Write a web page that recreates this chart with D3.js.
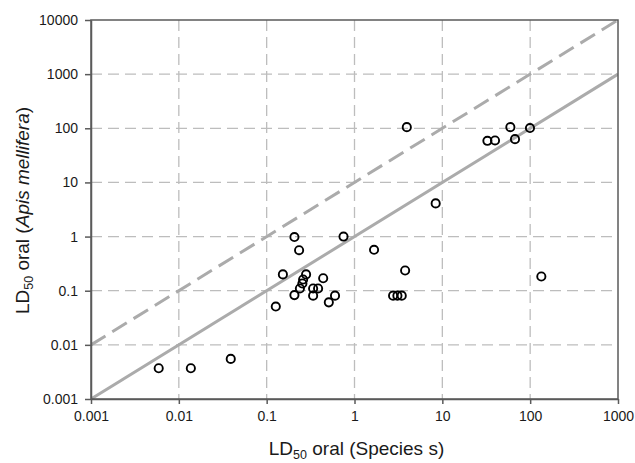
<!DOCTYPE html>
<html>
<head>
<meta charset="utf-8">
<script src="https://cdn.jsdelivr.net/npm/d3@7"></script>
<style>
  html, body { margin: 0; padding: 0; background: #fff; }
  svg { display: block; font-family: "Liberation Sans", Arial, sans-serif; }
</style>
</head>
<body>
<svg id="chart" width="635" height="463"></svg>
<script>
// LD50 oral values: other species (x) vs. honey bee Apis mellifera (y)
const speciesLD50 = [
  0.0059, 0.0137, 0.039, 0.127, 0.153, 0.207, 0.234, 0.207,
  0.281, 0.26, 0.255, 0.239, 0.338, 0.385, 0.338, 0.44,
  0.6, 0.51, 0.75, 1.67, 3.77, 2.75, 3.08, 3.45,
  3.94, 8.4, 32.6, 39.8, 59.5, 67.2, 99.5, 134
];
const apisLD50 = [
  0.0037, 0.0037, 0.0055, 0.051, 0.2, 0.98, 0.56, 0.083,
  0.2, 0.161, 0.136, 0.11, 0.11, 0.11, 0.081, 0.17,
  0.081, 0.061, 1.0, 0.57, 0.236, 0.081, 0.081, 0.081,
  105, 4.1, 58.7, 59.6, 105, 63, 101, 0.183
];

// Reference lines: 1:1 and tenfold
const refX = [0.001, 1000];
const oneToOneY = [0.001, 1000];
const tenfoldY = [0.01, 10000];

const xTicks = [0.001, 0.01, 0.1, 1, 10, 100, 1000];
const xTickLabels = ["0.001", "0.01", "0.1", "1", "10", "100", "1000"];
const yTicks = [0.001, 0.01, 0.1, 1, 10, 100, 1000, 10000];
const yTickLabels = ["0.001", "0.01", "0.1", "1", "10", "100", "1000", "10000"];

const svg = d3.select("#chart");
const W = 635, H = 463;
const margin = { left: 91, right: 17, top: 20, bottom: 64 };
const x0 = margin.left, x1 = W - margin.right;
const y0 = H - margin.bottom, y1 = margin.top;

const x = d3.scaleLog().domain([0.001, 1000]).range([x0, x1]);
const y = d3.scaleLog().domain([0.001, 10000]).range([y0, y1]);

const gridColor = "#bdbdbd";
const axisColor = "#5a5a5a";
const refColor = "#ababab";

// Grid
const grid = svg.append("g");
grid.selectAll("line.vx").data(xTicks.slice(1, -1)).join("line")
  .attr("x1", d => x(d)).attr("x2", d => x(d))
  .attr("y1", y1).attr("y2", y0)
  .attr("stroke", gridColor).attr("stroke-width", 1.3)
  .attr("stroke-dasharray", "11,6");
grid.selectAll("line.hy").data(yTicks.slice(1, -1)).join("line")
  .attr("x1", x0).attr("x2", x1)
  .attr("y1", d => y(d)).attr("y2", d => y(d))
  .attr("stroke", gridColor).attr("stroke-width", 1.3)
  .attr("stroke-dasharray", "11,6");

// Reference lines
svg.append("defs").append("clipPath").attr("id", "plotClip")
  .append("rect").attr("x", x0).attr("y", y1).attr("width", x1 - x0).attr("height", y0 - y1);

const line = d3.line().x(d => x(d[0])).y(d => y(d[1]));
const refs = svg.append("g").attr("clip-path", "url(#plotClip)");
refs.append("path")
  .attr("d", line(d3.zip(refX, oneToOneY)))
  .attr("fill", "none").attr("stroke", refColor).attr("stroke-width", 3);
refs.append("path")
  .attr("d", line(d3.zip(refX, tenfoldY)))
  .attr("fill", "none").attr("stroke", refColor).attr("stroke-width", 3)
  .attr("stroke-dasharray", "17,8");

// Frame
svg.append("rect")
  .attr("x", x0).attr("y", y1).attr("width", x1 - x0).attr("height", y0 - y1)
  .attr("fill", "none").attr("stroke", axisColor).attr("stroke-width", 1.5);

// Axes
const xAxis = d3.axisBottom(x).tickValues(xTicks)
  .tickFormat((d, i) => xTickLabels[i]).tickSize(5).tickSizeOuter(0).tickPadding(7);
const yAxis = d3.axisLeft(y).tickValues(yTicks)
  .tickFormat((d, i) => yTickLabels[i]).tickSize(6).tickSizeOuter(0).tickPadding(7);

const gx = svg.append("g").attr("transform", `translate(0,${y0})`).call(xAxis);
const gy = svg.append("g").attr("transform", `translate(${x0},0)`).call(yAxis);
[gx, gy].forEach(g => {
  g.select(".domain").attr("stroke", axisColor).attr("stroke-width", 1.5);
  g.selectAll(".tick line").attr("stroke", axisColor).attr("stroke-width", 1.5);
  g.selectAll(".tick text").attr("fill", "#1a1a1a")
    .style("font-family", "'Liberation Sans', Arial, sans-serif").style("font-size", "14px");
});

// Points
svg.append("g").selectAll("circle")
  .data(d3.zip(speciesLD50, apisLD50)).join("circle")
  .attr("cx", d => x(d[0])).attr("cy", d => y(d[1]))
  .attr("r", 4.1)
  .attr("fill", "none").attr("stroke", "#000").attr("stroke-width", 1.9);

// Axis titles
const xt = svg.append("text")
  .attr("x", (x0 + x1) / 2 + 2).attr("y", 455)
  .attr("text-anchor", "middle").attr("fill", "#1a1a1a").style("font-size", "19px");
xt.append("tspan").text("LD");
xt.append("tspan").attr("dy", 4).style("font-size", "12.5px").text("50");
xt.append("tspan").attr("dy", -4).text(" oral (Species s)");

const yt = svg.append("text")
  .attr("transform", `translate(29,${(y0 + y1) / 2 + 1}) rotate(-90)`)
  .attr("text-anchor", "middle").attr("fill", "#1a1a1a").style("font-size", "19px");
yt.append("tspan").text("LD");
yt.append("tspan").attr("dy", 4).style("font-size", "12.5px").text("50");
yt.append("tspan").attr("dy", -4).text(" oral (");
yt.append("tspan").style("font-style", "italic").text("Apis mellifera");
yt.append("tspan").text(")");
</script>
</body>
</html>
